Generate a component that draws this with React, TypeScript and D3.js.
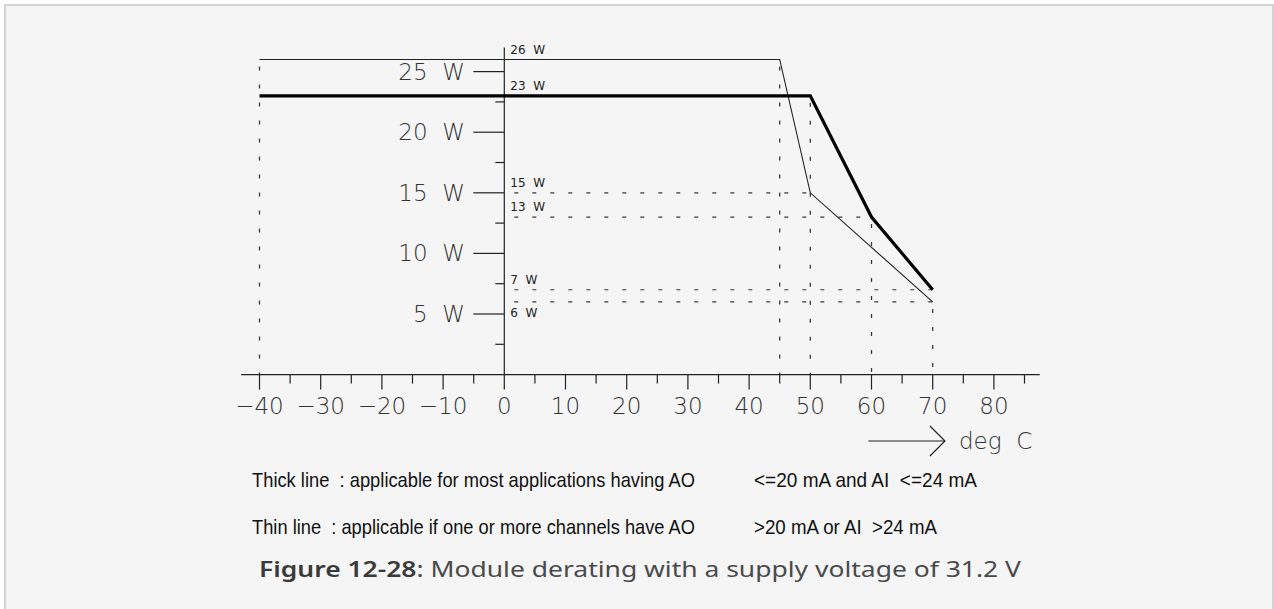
import React from 'react';
import * as d3 from 'd3';

// derating curves (deg C -> W)
const thinTemps = [-40, 45, 50, 70];
const thinWatts = [26, 26, 15, 6];
const thickTemps = [-40, 50, 60, 70];
const thickWatts = [23, 23, 13, 7];

// dotted helper lines
const hGuideWatts = [15, 13, 7, 6];
const hGuideTemps = [50, 60, 70, 70];
const vGuideTemps = [-40, 45, 50, 60, 70];
const vGuideWatts = [26, 26, 23, 13, 6];

// small value labels next to the y axis
const annoWatts = [26, 23, 15, 13, 7, 6];
const annoLabels = ['26  W', '23  W', '15  W', '13  W', '7  W', '6  W'];

const xMajorTicks = [-40, -30, -20, -10, 0, 10, 20, 30, 40, 50, 60, 70, 80];
const xMinorTicks = [-35, -25, -15, -5, 5, 15, 25, 35, 45, 55, 65, 75, 85];
const yMajorTicks = [5, 10, 15, 20, 25];
const yMinorTicks = [2.5, 7.5, 12.5, 17.5, 22.5];

const legendLeft = [
  'Thick line  : applicable for most applications having AO',
  'Thin line  : applicable if one or more channels have AO',
];
const legendRight = ['<=20 mA and AI  <=24 mA', '>20 mA or AI  >24 mA'];
const legendRightWidths = [223, 183];

const W = 1274;
const H = 609;

const App: React.FC = () => {
  const x = d3.scaleLinear().domain([-40, 85]).range([259.5, 1024.5]);
  const y = d3.scaleLinear().domain([0, 26]).range([374.6, 59.5]);

  const line = d3
    .line<[number, number]>()
    .x((d) => x(d[0]))
    .y((d) => y(d[1]));

  const thin = thinTemps.map((t, i) => [t, thinWatts[i]] as [number, number]);
  const thick = thickTemps.map((t, i) => [t, thickWatts[i]] as [number, number]);

  const axisFont = "'DejaVu Sans', sans-serif";
  const legendFont = "'Liberation Sans Narrow', 'Liberation Sans', Arial, sans-serif";
  const dash = '4 14';
  const guideColor = '#3a3a3a';

  return (
    <svg
      width={W}
      height={H}
      style={{ position: 'absolute', left: 0, top: 0, display: 'block' }}
    >
      <rect x={0} y={0} width={W} height={H} fill="#ffffff" />
      <rect x={5} y={5} width={1268} height={640} fill="#f5f5f5" stroke="#d3d3d3" strokeWidth={2} />

      {/* dotted guides */}
      {hGuideWatts.map((w, i) => (
        <line
          key={'h' + i}
          x1={x(0)}
          x2={x(hGuideTemps[i])}
          y1={y(w)}
          y2={y(w)}
          stroke={guideColor}
          strokeWidth={1.2}
          strokeDasharray={dash}
          strokeDashoffset={-10}
        />
      ))}
      {vGuideTemps.map((t, i) => (
        <line
          key={'v' + i}
          x1={x(t)}
          x2={x(t)}
          y1={y(vGuideWatts[i])}
          y2={y(0)}
          stroke={guideColor}
          strokeWidth={1.3}
          strokeDasharray={dash}
          strokeDashoffset={-7}
        />
      ))}

      {/* axes */}
      <line x1={x(-43)} x2={x(87.5)} y1={y(0)} y2={y(0)} stroke="#222" strokeWidth={1.2} />
      <line x1={x(0)} x2={x(0)} y1={y(27)} y2={y(0)} stroke="#222" strokeWidth={1.2} />

      {xMajorTicks.map((t) => (
        <g key={'xm' + t}>
          <line x1={x(t)} x2={x(t)} y1={y(0)} y2={y(0) + 15} stroke="#222" strokeWidth={1.2} />
          <text
            x={x(t)}
            y={414}
            textAnchor="middle"
            fontFamily={axisFont}
            fontWeight={200}
            fontSize={23}
            fill="#333"
          >
            {t < 0 ? '\u2212' + Math.abs(t) : String(t)}
          </text>
        </g>
      ))}
      {xMinorTicks.map((t) => (
        <line key={'xn' + t} x1={x(t)} x2={x(t)} y1={y(0)} y2={y(0) + 9} stroke="#222" strokeWidth={1.2} />
      ))}

      {yMajorTicks.map((v) => (
        <g key={'ym' + v}>
          <line x1={x(0) - 31} x2={x(0)} y1={y(v)} y2={y(v)} stroke="#222" strokeWidth={1.2} />
          <text
            x={465}
            y={y(v) + 8}
            textAnchor="end"
            fontFamily={axisFont}
            fontWeight={200}
            fontSize={23}
            fill="#333"
            style={{ whiteSpace: 'pre' }}
          >
            {v + '  W'}
          </text>
        </g>
      ))}
      {yMinorTicks.map((v) => (
        <line key={'yn' + v} x1={x(0) - 9} x2={x(0)} y1={y(v)} y2={y(v)} stroke="#222" strokeWidth={1.2} />
      ))}

      {annoWatts.map((w, i) => (
        <text
          key={'a' + i}
          x={x(0) + 6}
          y={w === 6 ? y(w) + 15 : y(w) - 6}
          fontFamily={axisFont}
          fontSize={12}
          fill="#222"
          style={{ whiteSpace: 'pre' }}
        >
          {annoLabels[i]}
        </text>
      ))}

      {/* curves */}
      <path d={line(thin) ?? ''} fill="none" stroke="#222" strokeWidth={1.1} />
      <path d={line(thick) ?? ''} fill="none" stroke="#000" strokeWidth={3.2} strokeLinejoin="miter" />

      {/* deg C arrow */}
      <line x1={x(59.5)} x2={x(72)} y1={441} y2={441} stroke="#222" strokeWidth={1.2} />
      <path
        d={`M${x(72) - 15},426 L${x(72)},441 L${x(72) - 15},456`}
        fill="none"
        stroke="#222"
        strokeWidth={1.2}
      />
      <text
        x={959}
        y={449}
        fontFamily={axisFont}
        fontWeight={200}
        fontSize={23}
        fill="#333"
        style={{ whiteSpace: 'pre' }}
      >
        {'deg  C'}
      </text>

      {/* legend */}
      {legendLeft.map((s, i) => (
        <text
          key={'ll' + i}
          x={252}
          y={487 + i * 47}
          fontFamily={legendFont}
          fontSize={21}
          fill="#111"
          textLength={443}
          lengthAdjust="spacingAndGlyphs"
          style={{ whiteSpace: 'pre' }}
        >
          {s}
        </text>
      ))}
      {legendRight.map((s, i) => (
        <text
          key={'lr' + i}
          x={754}
          y={487 + i * 47}
          fontFamily={legendFont}
          fontSize={21}
          fill="#111"
          textLength={legendRightWidths[i]}
          lengthAdjust="spacingAndGlyphs"
          style={{ whiteSpace: 'pre' }}
        >
          {s}
        </text>
      ))}

      {/* caption */}
      <text
        x={259}
        y={577}
        fontFamily="'Noto Sans', 'Open Sans', sans-serif"
        fontSize={21}
        fill="#4a4a4a"
        textLength={762}
        lengthAdjust="spacingAndGlyphs"
      >
        <tspan fontWeight={600} fill="#3a3a3a">Figure 12-28</tspan>
        <tspan>: Module derating with a supply voltage of 31.2 V</tspan>
      </text>
    </svg>
  );
};

export default App;
